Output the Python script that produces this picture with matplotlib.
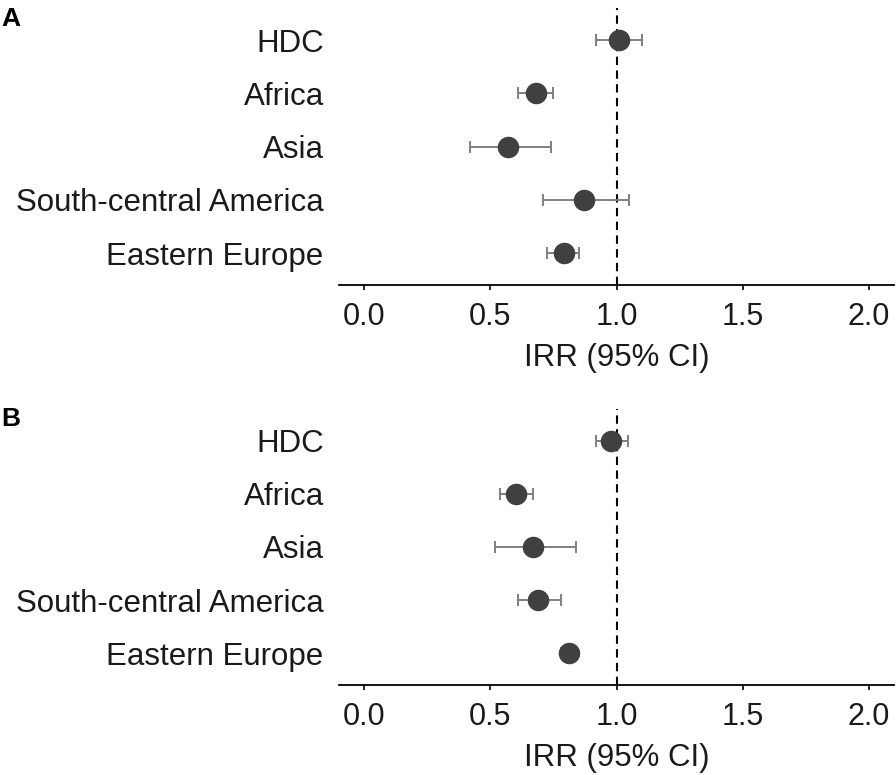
import matplotlib
matplotlib.use("Agg")
import matplotlib.pyplot as plt

categories = ["HDC", "Africa", "Asia", "South-central America", "Eastern Europe"]

# Panel A
irr_a = [1.01, 0.68, 0.57, 0.87, 0.79]
lo_a = [0.92, 0.61, 0.42, 0.71, 0.725]
hi_a = [1.10, 0.75, 0.74, 1.05, 0.85]

# Panel B
irr_b = [0.98, 0.60, 0.67, 0.69, 0.81]
lo_b = [0.92, 0.54, 0.52, 0.61, 0.78]
hi_b = [1.045, 0.67, 0.84, 0.78, 0.84]

xticks = [0.0, 0.5, 1.0, 1.5, 2.0]
xticklabels = ["0.0", "0.5", "1.0", "1.5", "2.0"]
panel_letters = ["A", "B"]

plt.rcParams['font.family'] = ['Liberation Sans', 'DejaVu Sans']

fig = plt.figure(figsize=(8.96, 7.75), dpi=100)
W, H = 896, 775
L, R = 339, 894
panels = [(8.3, 285), (409, 685)]

datasets = [(irr_a, lo_a, hi_a), (irr_b, lo_b, hi_b)]
ypos = list(range(len(categories), 0, -1))

for (top, bot), (irr, lo, hi), letter in zip(panels, datasets, panel_letters):
    ax = fig.add_axes([L / W, 1 - bot / H, (R - L) / W, (bot - top) / H])
    ax.axvline(1.0, color='black', lw=1.5, linestyle=(0, (4, 2.6)), zorder=1)
    xerr = [[m - l for m, l in zip(irr, lo)], [h - m for m, h in zip(irr, hi)]]
    ax.errorbar(irr, ypos, xerr=xerr, fmt='none', ecolor='#808080',
                elinewidth=1.4, capsize=4, capthick=1.4, zorder=2)
    ax.plot(irr, ypos, 'o', color='#404040', markersize=15.5, markeredgewidth=0, zorder=3)
    ax.set_xlim(-0.1, 2.1)
    ax.set_ylim(0.4, len(categories) + 0.6)
    ax.set_yticks(ypos)
    ax.set_yticklabels(categories, fontsize=22.5, color='#1a1a1a')
    ax.tick_params(axis='y', length=0, pad=11)
    ax.set_xticks(xticks)
    ax.set_xticklabels(xticklabels, fontsize=22, color='#1a1a1a')
    ax.tick_params(axis='x', direction='out', length=3.5, width=1.2, pad=9)
    ax.set_xlabel("IRR (95% CI)", fontsize=22.5, color='#1a1a1a', labelpad=8)
    for s in ['top', 'right', 'left']:
        ax.spines[s].set_visible(False)
    ax.spines['bottom'].set_linewidth(1.3)
    fig.text(0.001, 1 - (top + 17.5) / H, letter, fontsize=19, fontweight='bold',
             va='baseline', ha='left')

fig.savefig("out.png", dpi=100)
